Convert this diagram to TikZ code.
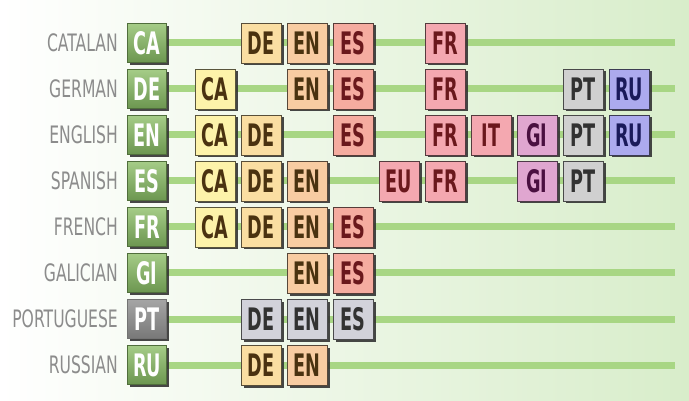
\documentclass[tikz,border=0pt]{standalone}
\usepackage{fontspec}
\usetikzlibrary{shadows}
\newfontfamily\labfont[FakeStretch=0.65]{DejaVu Sans}
\newfontfamily\boxfont[FakeStretch=0.57]{DejaVu Sans}

% palette
\definecolor{bgG}{RGB}{216,237,202}
\definecolor{lineG}{RGB}{168,214,132}
\definecolor{labG}{RGB}{140,140,140}
\definecolor{srcT}{RGB}{165,204,135}
\definecolor{srcB}{RGB}{108,150,80}
\definecolor{srcD}{RGB}{80,110,60}
\definecolor{grayT}{RGB}{165,165,165}
\definecolor{grayB}{RGB}{120,120,120}
\definecolor{fCA}{RGB}{253,243,170}
\definecolor{fDE}{RGB}{250,222,162}
\definecolor{fEN}{RGB}{248,204,162}
\definecolor{fES}{RGB}{245,172,160}
\definecolor{fFR}{RGB}{244,168,176}
\definecolor{fGI}{RGB}{224,166,208}
\definecolor{fPT}{RGB}{208,208,208}
\definecolor{fRU}{RGB}{172,170,238}
\definecolor{fGR}{RGB}{210,210,218}
\definecolor{tBr}{RGB}{74,50,16}
\definecolor{tRd}{RGB}{106,24,28}
\definecolor{tPu}{RGB}{74,16,64}
\definecolor{tGy}{RGB}{50,50,50}
\definecolor{tNv}{RGB}{26,26,90}

\tikzset{
  lab/.style={anchor=east, inner sep=0pt, text=labG,
    font=\labfont\fontsize{24}{24}\selectfont},
  boxbase/.style={inner sep=0pt, line width=0.7pt,
    font=\boxfont\bfseries\fontsize{31}{31}\selectfont,
    drop shadow={shadow xshift=2.5pt, shadow yshift=-2.5pt, fill=black!80, opacity=0.9}},
  srcgreen/.style={boxbase, minimum width=39pt, minimum height=39pt,
    top color=srcT, bottom color=srcB, draw=srcD, text=white},
  srcgray/.style={boxbase, minimum width=39pt, minimum height=39pt,
    top color=grayT, bottom color=grayB, draw=black!55, text=white},
  tgt/.style={boxbase, minimum width=40pt, minimum height=40pt},
  cCA/.style={fill=fCA, draw=fCA!35!black, text=tBr},
  cDE/.style={fill=fDE, draw=fDE!35!black, text=tBr},
  cEN/.style={fill=fEN, draw=fEN!35!black, text=tBr},
  cES/.style={fill=fES, draw=fES!35!black, text=tRd},
  cFR/.style={fill=fFR, draw=fFR!35!black, text=tRd},
  cGI/.style={fill=fGI, draw=fGI!35!black, text=tPu},
  cPT/.style={fill=fPT, draw=fPT!35!black, text=tGy},
  cRU/.style={fill=fRU, draw=fRU!35!black, text=tNv},
  cGR/.style={fill=fGR, draw=fGR!35!black, text=tGy},
  gline/.style={line width=7pt, draw=lineG},
}

\begin{document}
\begin{tikzpicture}[x=1pt, y=-1pt]
  \useasboundingbox (0,0) rectangle (689,401);
  \shade[left color=white, right color=bgG] (0,0) rectangle (689,401);

  % source languages, their labels and rails
  \foreach \lang/\code/\r/\st in {CATALAN/CA/0/srcgreen, GERMAN/DE/1/srcgreen,
      ENGLISH/EN/2/srcgreen, SPANISH/ES/3/srcgreen, FRENCH/FR/4/srcgreen,
      GALICIAN/GI/5/srcgreen, PORTUGUESE/PT/6/srcgray, RUSSIAN/RU/7/srcgreen} {
    \node[lab] (lab-\code) at (118, 43+46*\r) {\lang};
    \coordinate (end-\code) at (675, 43+46*\r);
    \draw[gline] (147, 43+46*\r) -- (end-\code);
    \node[\st] (src-\code) at (147, 43+46*\r) {\code};
  }

  % target languages: row / column / code / colour
  \foreach \r/\c/\code/\st in {
      0/1/DE/cDE, 0/2/EN/cEN, 0/3/ES/cES, 0/5/FR/cFR,
      1/0/CA/cCA, 1/2/EN/cEN, 1/3/ES/cES, 1/5/FR/cFR, 1/8/PT/cPT, 1/9/RU/cRU,
      2/0/CA/cCA, 2/1/DE/cDE, 2/3/ES/cES, 2/5/FR/cFR, 2/6/IT/cFR, 2/7/GI/cGI, 2/8/PT/cPT, 2/9/RU/cRU,
      3/0/CA/cCA, 3/1/DE/cDE, 3/2/EN/cEN, 3/4/EU/cFR, 3/5/FR/cFR, 3/7/GI/cGI, 3/8/PT/cPT,
      4/0/CA/cCA, 4/1/DE/cDE, 4/2/EN/cEN, 4/3/ES/cES,
      5/2/EN/cEN, 5/3/ES/cES,
      6/1/DE/cGR, 6/2/EN/cGR, 6/3/ES/cGR,
      7/1/DE/cDE, 7/2/EN/cEN} {
    \node[tgt, \st] (t-\r-\code) at (215+46*\c, 43+46*\r) {\code};
  }
\end{tikzpicture}
\end{document}
